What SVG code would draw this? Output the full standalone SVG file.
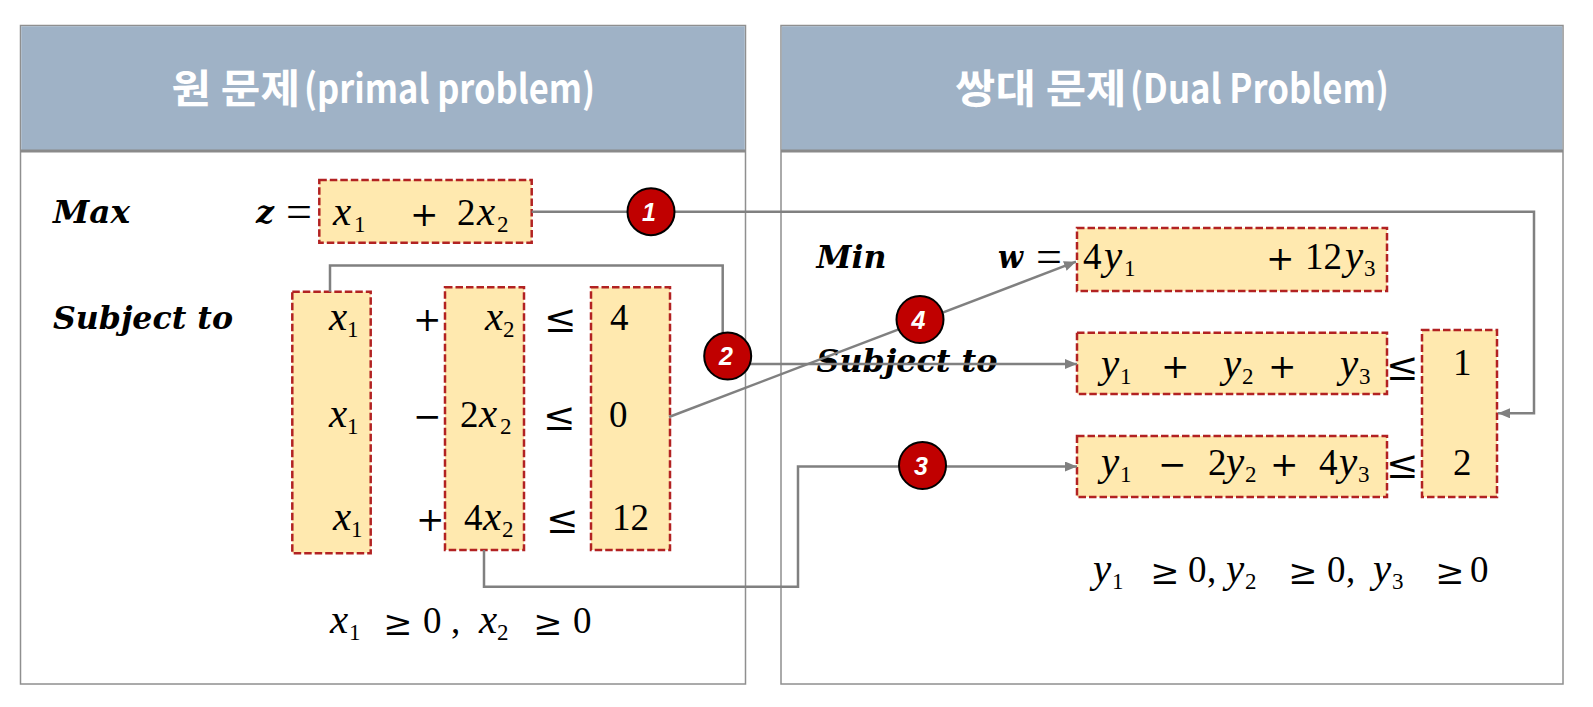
<svg xmlns="http://www.w3.org/2000/svg" width="1593" height="707" viewBox="0 0 1593 707">
<style>
.panel{fill:#ffffff;stroke:#8f8f8f;stroke-width:1.5}
.hdr{fill:#9fb2c6}
.sep{stroke:#8a8a8a;stroke-width:3}
.htk{font-family:"Noto Sans CJK KR","Noto Sans",sans-serif;font-weight:bold;font-size:40px;fill:#ffffff}
.box{fill:#ffe9af;stroke:#b22222;stroke-width:2.5;stroke-dasharray:7.5 3}
.m{font-family:"Liberation Serif","Times New Roman",serif;font-size:37px;fill:#000}
.v{font-style:italic;font-size:41px}
.o{font-family:"DejaVu Serif","Liberation Serif",serif;font-size:34px}
.r{font-family:"DejaVu Serif","Liberation Serif",serif;font-size:39px}
.r2{font-family:"DejaVu Serif","Liberation Serif",serif;font-size:35px}
.e{font-size:46px}
.s{font-size:23px}
.lbl{font-family:"DejaVu Serif","Liberation Serif",serif;font-size:31px;font-weight:bold;font-style:italic;fill:#000}
.con{fill:none;stroke:#808080;stroke-width:2.5}
.bub{fill:#c00000;stroke:#000;stroke-width:2}
.bt{font-family:"Liberation Sans",Arial,sans-serif;font-size:25px;font-weight:bold;font-style:italic;fill:#fff;text-anchor:middle}
</style>
<defs>
<marker id="arr" markerUnits="userSpaceOnUse" markerWidth="13" markerHeight="11" refX="12" refY="5" orient="auto">
<path d="M0,0 L12,5 L0,10 z" fill="#808080"/>
</marker>
</defs>

<g id="primal-panel">
<rect class="panel" x="20.5" y="25.5" width="725" height="658.5"/>
<rect class="hdr" x="21.25" y="26.25" width="723.5" height="124.5"/>
<line class="sep" x1="20.5" y1="151" x2="745.5" y2="151"/>
<text class="htk" x="171.5" y="103" textLength="128.5" lengthAdjust="spacingAndGlyphs">원 문제</text>
<text class="htk" x="304" y="103" textLength="291" lengthAdjust="spacingAndGlyphs">(primal problem)</text>
</g>

<g id="dual-panel">
<rect class="panel" x="781" y="25.5" width="782" height="658.5"/>
<rect class="hdr" x="781.75" y="26.25" width="780.5" height="124.5"/>
<line class="sep" x1="781" y1="151" x2="1563" y2="151"/>
<text class="htk" x="955" y="103" textLength="171.5" lengthAdjust="spacingAndGlyphs">쌍대 문제</text>
<text class="htk" x="1130" y="103" textLength="259" lengthAdjust="spacingAndGlyphs">(Dual Problem)</text>
</g>

<g id="primal-labels">
<text class="lbl" x="53" y="223" textLength="77" lengthAdjust="spacingAndGlyphs">Max</text>
<text class="lbl" x="256" y="223" textLength="18" lengthAdjust="spacingAndGlyphs">z</text>
<text class="lbl" x="53" y="329" textLength="180" lengthAdjust="spacingAndGlyphs">Subject to</text>
<text class="m e" x="286" y="227">=</text>
</g>

<g id="primal-objective">
<rect class="box" x="319.3" y="180" width="212.4" height="62.7"/>
<text class="m"><tspan class="v" x="333" y="225">x</tspan><tspan class="s" x="354" y="232">1</tspan><tspan class="o" x="410" y="226">+</tspan><tspan x="457" y="225">2</tspan><tspan class="v" x="477" y="225">x</tspan><tspan class="s" x="497" y="232">2</tspan></text>
</g>

<g id="primal-col-x1">
<rect class="box" x="292.3" y="291.7" width="78.4" height="261.6"/>
<text class="m"><tspan class="v" x="329" y="329.5">x</tspan><tspan class="s" x="347" y="336.5">1</tspan></text>
<text class="m"><tspan class="v" x="329" y="427">x</tspan><tspan class="s" x="347" y="434">1</tspan></text>
<text class="m"><tspan class="v" x="333" y="530">x</tspan><tspan class="s" x="351" y="537">1</tspan></text>
</g>

<g id="primal-ops">
<text class="m o" x="413" y="330.5">+</text>
<text class="m o" x="413" y="428">−</text>
<text class="m o" x="416" y="531">+</text>
<text class="m r" x="544" y="332">≤</text>
<text class="m r" x="543" y="430">≤</text>
<text class="m r" x="546" y="533">≤</text>
</g>

<g id="primal-col-x2">
<rect class="box" x="445" y="287.3" width="79" height="262.7"/>
<text class="m"><tspan class="v" x="485" y="329.5">x</tspan><tspan class="s" x="503" y="336.5">2</tspan></text>
<text class="m"><tspan x="460" y="427">2</tspan><tspan class="v" x="479" y="427">x</tspan><tspan class="s" x="500" y="434">2</tspan></text>
<text class="m"><tspan x="464" y="530">4</tspan><tspan class="v" x="483" y="530">x</tspan><tspan class="s" x="502" y="537">2</tspan></text>
</g>

<g id="primal-rhs">
<rect class="box" x="591" y="287.3" width="79" height="262.7"/>
<text class="m" x="610" y="329.5">4</text>
<text class="m" x="609" y="427">0</text>
<text class="m" x="612" y="530">12</text>
</g>

<g id="primal-nonneg">
<text class="m"><tspan class="v" x="330" y="633">x</tspan><tspan class="s" x="349" y="640">1</tspan><tspan class="r2" x="383" y="635">≥</tspan><tspan x="423" y="633">0</tspan><tspan x="451" y="633">,</tspan><tspan class="v" x="479" y="633">x</tspan><tspan class="s" x="497" y="640">2</tspan><tspan class="r2" x="533" y="635">≥</tspan><tspan x="573" y="633">0</tspan></text>
</g>

<g id="dual-labels">
<text class="lbl" x="816.5" y="268" textLength="70" lengthAdjust="spacingAndGlyphs">Min</text>
<text class="lbl" x="998" y="268" textLength="25" lengthAdjust="spacingAndGlyphs">w</text>
<text class="m e" x="1036" y="272">=</text>
<text class="lbl" x="816.5" y="372" textLength="181" lengthAdjust="spacingAndGlyphs">Subject to</text>
</g>

<g id="dual-objective">
<rect class="box" x="1077" y="228" width="310" height="63"/>
<text class="m"><tspan x="1083" y="269">4</tspan><tspan class="v" x="1104" y="269">y</tspan><tspan class="s" x="1124" y="276">1</tspan><tspan class="o" x="1266" y="270">+</tspan><tspan x="1305" y="269">12</tspan><tspan class="v" x="1345" y="269">y</tspan><tspan class="s" x="1364" y="276">3</tspan></text>
</g>

<g id="dual-con1">
<rect class="box" x="1077" y="332.7" width="310" height="61.3"/>
<text class="m"><tspan class="v" x="1101" y="377">y</tspan><tspan class="s" x="1120" y="384">1</tspan><tspan class="o" x="1161" y="378">+</tspan><tspan class="v" x="1223" y="377">y</tspan><tspan class="s" x="1242" y="384">2</tspan><tspan class="o" x="1268" y="378">+</tspan><tspan class="v" x="1340" y="377">y</tspan><tspan class="s" x="1359" y="384">3</tspan></text>
</g>

<g id="dual-con2">
<rect class="box" x="1077" y="436" width="310" height="61"/>
<text class="m"><tspan class="v" x="1101" y="475">y</tspan><tspan class="s" x="1120" y="482">1</tspan><tspan class="o" x="1158" y="476">−</tspan><tspan x="1208" y="475">2</tspan><tspan class="v" x="1226" y="475">y</tspan><tspan class="s" x="1245" y="482">2</tspan><tspan class="o" x="1270" y="476">+</tspan><tspan x="1319" y="475">4</tspan><tspan class="v" x="1339" y="475">y</tspan><tspan class="s" x="1358" y="482">3</tspan></text>
</g>

<g id="dual-ops">
<text class="m r" x="1386" y="380">≤</text>
<text class="m r" x="1386" y="478">≤</text>
</g>

<g id="dual-rhs">
<rect class="box" x="1422" y="330" width="75" height="167"/>
<text class="m" x="1453" y="375">1</text>
<text class="m" x="1453" y="475">2</text>
</g>

<g id="dual-nonneg">
<text class="m"><tspan class="v" x="1093" y="582">y</tspan><tspan class="s" x="1112" y="589">1</tspan><tspan class="r2" x="1150" y="584">≥</tspan><tspan x="1188" y="582">0</tspan><tspan x="1207" y="582">,</tspan><tspan class="v" x="1226" y="582">y</tspan><tspan class="s" x="1245" y="589">2</tspan><tspan class="r2" x="1288" y="584">≥</tspan><tspan x="1327" y="582">0</tspan><tspan x="1346" y="582">,</tspan><tspan class="v" x="1373" y="582">y</tspan><tspan class="s" x="1392" y="589">3</tspan><tspan class="r2" x="1435" y="584">≥</tspan><tspan x="1470" y="582">0</tspan></text>
</g>

<g id="connectors">
<path class="con" d="M531.7,211.7 H1534 V413.3 H1498" marker-end="url(#arr)"/>
<path class="con" d="M330,291.7 V265.5 H722.7 V364 H1077" marker-end="url(#arr)"/>
<path class="con" d="M484,550 V586.7 H798 V466.5 H1077" marker-end="url(#arr)"/>
<path class="con" d="M669,417 L1076,261.7" marker-end="url(#arr)"/>
</g>

<g id="badge-1">
<circle class="bub" cx="651" cy="211.7" r="23.5"/>
<text class="bt" x="649" y="220.5">1</text>
</g>
<g id="badge-2">
<circle class="bub" cx="727.7" cy="356" r="23.5"/>
<text class="bt" x="726" y="365">2</text>
</g>
<g id="badge-3">
<circle class="bub" cx="922.5" cy="465.5" r="23.5"/>
<text class="bt" x="921" y="474.5">3</text>
</g>
<g id="badge-4">
<circle class="bub" cx="920" cy="319.5" r="23.5"/>
<text class="bt" x="918.5" y="328.5">4</text>
</g>
</svg>
